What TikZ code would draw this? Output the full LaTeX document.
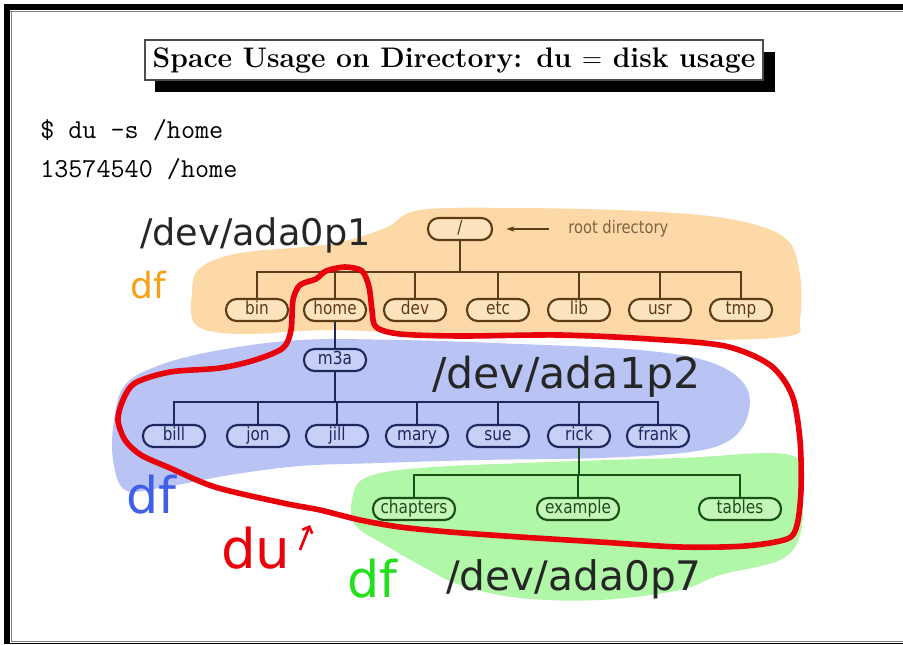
\documentclass[tikz,border=0pt]{standalone}
\usepackage{fontspec}
\usetikzlibrary{arrows.meta}
\newfontfamily\labfont{DejaVu Sans}
\newfontfamily\nodefont[FakeStretch=0.85]{DejaVu Sans}
\definecolor{orBlob}{RGB}{252,217,167}
\definecolor{blBlob}{RGB}{185,196,245}
\definecolor{grBlob}{RGB}{176,247,168}
\definecolor{orEdge}{RGB}{92,60,22}
\definecolor{orFill}{RGB}{253,228,190}
\definecolor{blEdge}{RGB}{30,40,92}
\definecolor{blFill}{RGB}{200,208,248}
\definecolor{grEdge}{RGB}{26,80,22}
\definecolor{grFill}{RGB}{196,246,186}
\definecolor{duRed}{RGB}{232,0,10}
\definecolor{dfOrange}{RGB}{247,160,20}
\definecolor{dfBlue}{RGB}{64,96,232}
\definecolor{dfGreen}{RGB}{34,224,26}
\tikzset{
  dirbox/.style={rounded corners=8pt, line width=1.6pt, minimum width=46.5pt,
    minimum height=16.5pt, inner sep=0pt, text height=9.5pt, text depth=2.5pt,
    font=\nodefont\fontsize{13.5}{14}\selectfont},
  dirA/.style={dirbox, draw=orEdge, fill=orFill, text=orEdge},
  dirB/.style={dirbox, draw=blEdge, fill=blFill, text=blEdge},
  dirC/.style={dirbox, draw=grEdge, fill=grFill, text=grEdge, minimum width=61.5pt},
  treeA/.style={draw=orEdge, line width=1.5pt},
  treeB/.style={draw=blEdge, line width=1.5pt},
  treeC/.style={draw=grEdge, line width=1.5pt},
  biglabel/.style={anchor=base west, inner sep=0pt},
}
\begin{document}
\begin{tikzpicture}[x=0.75pt,y=-0.75pt]
\useasboundingbox (0,0) rectangle (903,644);
% slide frame
\fill[black] (4,4) rectangle (903,10);
\fill[black] (4,4) rectangle (10,644);
\draw[gray, line width=0.6pt] (10,11) -- (903,11);
\draw[gray, line width=0.6pt] (11,11) -- (11,641);
\draw[gray, line width=0.6pt] (11,641) -- (903,641);
\fill[black] (4,643) rectangle (903,644);

% title with drop shadow
\fill[black] (155,52) rectangle (775,92);
\draw[draw=gray!60!black, fill=white, line width=1.2pt] (145,40) rectangle (763,80);
\node (title) at (454,60) {\fontsize{21.2}{24}\selectfont\bfseries Space Usage on Directory: du $=$ disk usage};

% shell lines
\node (cmd) [biglabel] at (40,138) {\ttfamily\fontsize{20.5}{24}\selectfont \$ du -s /home};
\node (out) [biglabel] at (40,177) {\ttfamily\fontsize{20.5}{24}\selectfont 13574540 /home};

% partition regions
\fill[orBlob] plot[smooth cycle, tension=0.6] coordinates {
  (192,292) (200,268) (240,253) (330,244) (385,228) (420,210) (520,208)
  (640,211) (730,219) (785,238) (800,275) (800,320) (790,336) (700,340)
  (550,338) (420,334) (330,330) (240,334) (196,325)};
\fill[blBlob] plot[smooth cycle, tension=0.6] coordinates {
  (114,420) (125,385) (160,365) (220,350) (300,340) (400,340) (520,344)
  (640,350) (710,362) (745,385) (748,415) (730,440) (690,452) (600,458)
  (480,460) (380,463) (300,466) (230,475) (160,488) (125,490) (113,460)};
\fill[grBlob] plot[smooth cycle, tension=0.6] coordinates {
  (352,500) (365,478) (420,468) (550,462) (680,458) (790,455) (802,490)
  (800,535) (780,560) (720,575) (680,590) (600,600) (520,598) (460,585)
  (420,565) (385,545) (355,525)};

% first file system tree
\node (root) [dirA, minimum width=48pt] at (460,229) {/};
\node (bin)  [dirA] at (257,310) {bin};
\node (home) [dirA] at (335,310) {home};
\node (dev)  [dirA] at (415,310) {dev};
\node (etc)  [dirA] at (498,310) {etc};
\node (lib)  [dirA] at (579,310) {lib};
\node (usr)  [dirA] at (660,310) {usr};
\node (tmp)  [dirA] at (741,310) {tmp};
\coordinate (barA) at (460,272);
\draw[treeA] (root.south) -- (barA);
\draw[treeA] (bin.north) -- (bin.north |- barA) -- (tmp.north |- barA) -- (tmp.north);
\foreach \n in {home,dev,etc,lib,usr} \draw[treeA] (\n.north) -- (\n.north |- barA);
\node (rdlabel) [anchor=west, inner sep=0pt, text=orEdge!80!white,
  font=\nodefont\fontsize{13}{14}\selectfont] at (568,229) {root directory};
\draw[draw=orEdge, line width=0.9pt, -{Stealth[length=6pt,width=4pt]}]
  ([xshift=-14pt]rdlabel.west) -- ([xshift=10pt]root.east);

% second file system tree
\node (m3a)   [dirB] at (335,360) {m3a};
\node (bill)  [dirB] at (174,436) {bill};
\node (jon)   [dirB] at (258,436) {jon};
\node (jill)  [dirB] at (337,436) {jill};
\node (mary)  [dirB] at (417,436) {mary};
\node (sue)   [dirB] at (498,436) {sue};
\node (rick)  [dirB] at (579,436) {rick};
\node (frank) [dirB] at (658,436) {frank};
\coordinate (barB) at (337,402);
\draw[treeB] (home.south) -- (m3a.north);
\draw[treeB] (m3a.south) -- (m3a.south |- barB);
\draw[treeB] (bill.north) -- (bill.north |- barB) -- (frank.north |- barB) -- (frank.north);
\foreach \n in {jon,jill,mary,sue,rick} \draw[treeB] (\n.north) -- (\n.north |- barB);

% third file system tree
\node (chapters) [dirC] at (414,509) {chapters};
\node (example)  [dirC] at (578,509) {example};
\node (tables)   [dirC] at (740,509) {tables};
\coordinate (barC) at (579,475);
\draw[treeC] (rick.south) -- (barC);
\draw[treeC] (chapters.north) -- (chapters.north |- barC) -- (tables.north |- barC) -- (tables.north);
\draw[treeC] (example.north) -- (example.north |- barC);

% region captions
\node (capA) [biglabel, text=black!85] at (140,245) {\labfont\fontsize{27.5}{30}\selectfont /dev/ada0p1};
\node (capB) [biglabel, text=black!85] at (432,388) {\labfont\fontsize{32}{34}\selectfont /dev/ada1p2};
\node (capC) [biglabel, text=black!85] at (446,590) {\labfont\fontsize{30.5}{32}\selectfont /dev/ada0p7};
\node (dfA) [biglabel, text=dfOrange] at (130,298) {\labfont\fontsize{27}{30}\selectfont df};
\node (dfB) [biglabel, text=dfBlue] at (126,513) {\labfont\fontsize{38}{42}\selectfont df};
\node (dfC) [biglabel, text=dfGreen] at (347,597) {\labfont\fontsize{38}{42}\selectfont df};
\node (du)  [biglabel, text=duRed] at (221,568) {\labfont\fontsize{41}{45}\selectfont du};

% the subtree measured by du
\draw[duRed, line width=4.2pt, line join=round] plot[smooth cycle, tension=0.5] coordinates {
  (293,300) (300,285) (316,279) (326,271) (345,267) (362,271) (369,287)
  (372,310) (376,327) (400,334) (460,336) (560,335) (650,339) (725,346)
  (770,365) (792,395) (800,440) (801,490) (797,525) (787,539) (745,546)
  (680,547) (600,542) (520,537) (450,532) (400,527) (360,520) (320,510)
  (283,503) (215,487) (170,468) (141,455) (125,440) (118,420) (123,400)
  (135,383) (170,372) (220,368) (255,360) (283,348) (291,330)};
\coordinate (duarrowtail) at (300,550);
\coordinate (duarrowhead) at (310,525);
\draw[duRed, line width=2pt, -{Straight Barb[length=4pt,width=8pt]}] (duarrowtail) -- (duarrowhead);
\end{tikzpicture}
\end{document}
